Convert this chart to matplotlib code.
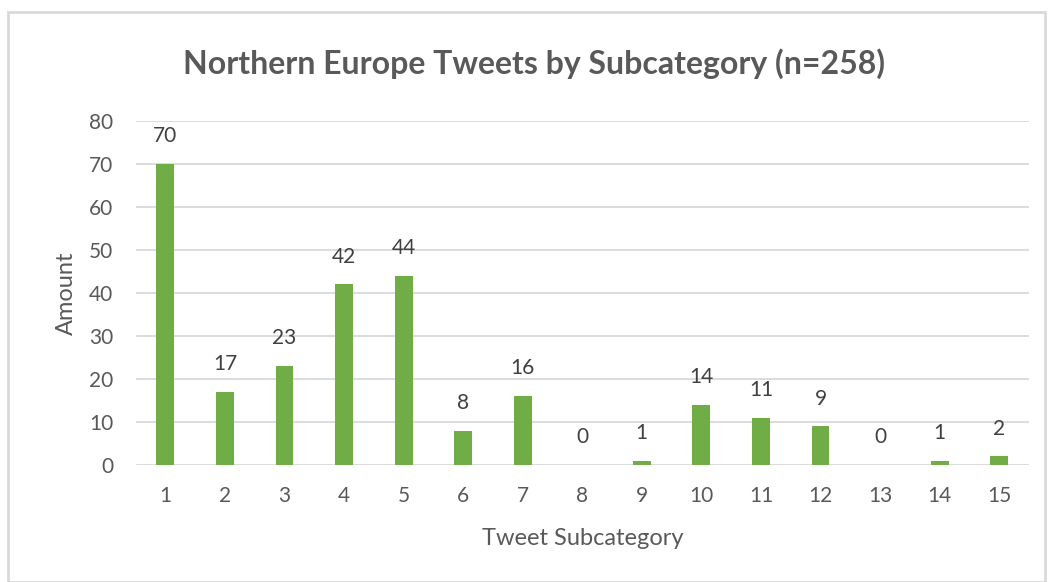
import matplotlib.pyplot as plt
from matplotlib.patches import Rectangle

categories = [str(i) for i in range(1, 16)]
amounts = [70, 17, 23, 42, 44, 8, 16, 0, 1, 14, 11, 9, 0, 1, 2]

GRAY = '#595959'
plt.rcParams['font.family'] = ['Lato', 'DejaVu Sans']

fig = plt.figure(figsize=(10.51, 5.82), dpi=100)
ax = fig.add_axes([0.129, 0.201, 0.850, 0.591])

x = list(range(len(categories)))
ax.bar(x, amounts, width=0.3, color='#70AD47', zorder=3)
for xi, v in zip(x, amounts):
    ax.annotate(str(v), (xi, v), xytext=(0, 20), textcoords='offset points',
                ha='center', va='center', fontsize=15, color='#404040')

ax.set_xlim(-0.5, len(categories) - 0.5)
ax.set_ylim(0, 80)
ax.set_yticks(range(0, 81, 10))
ax.set_xticks(x)
ax.set_xticklabels(categories)
ax.grid(axis='y', color='#d9d9d9', linewidth=1.3, zorder=0)
for s in ax.spines.values():
    s.set_visible(False)
ax.tick_params(length=0, labelsize=15, colors=GRAY)
ax.tick_params(axis='x', pad=15)
ax.tick_params(axis='y', pad=16)
ax.set_xlabel('Tweet Subcategory', fontsize=17, color=GRAY, labelpad=16)
ax.set_ylabel('Amount', fontsize=17, color=GRAY, labelpad=9)

fig.text(0.508, 0.89, 'Northern Europe Tweets by Subcategory (n=258)', ha='center', va='center',
         fontsize=23, fontweight='bold', color=GRAY)

fig.patches.append(Rectangle((8 / 1051, 0.0), 1037 / 1051, 1 - 12 / 582, transform=fig.transFigure,
                             fill=False, edgecolor='#d9d9d9', linewidth=2))

fig.savefig('out.png', dpi=100)
